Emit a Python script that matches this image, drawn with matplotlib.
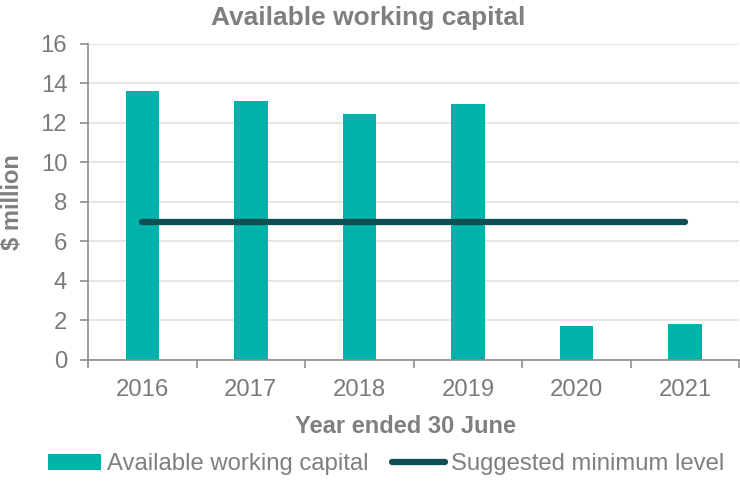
import matplotlib
matplotlib.use("Agg")
import matplotlib.pyplot as plt
from matplotlib.lines import Line2D
from matplotlib.patches import Patch
import numpy as np

years = ["2016", "2017", "2018", "2019", "2020", "2021"]
working_capital = [13.6, 13.1, 12.45, 12.95, 1.72, 1.81]
minimum_level = [7, 7, 7, 7, 7, 7]
y_ticks = [0, 2, 4, 6, 8, 10, 12, 14, 16]

bar_color = "#00B2A9"
line_color = "#0D4F52"
text_color = "#7F7F7F"
tick_text = "#7A7A7A"

plt.rcParams['font.family'] = ['Liberation Sans', 'DejaVu Sans']

fig = plt.figure(figsize=(7.4, 4.93), dpi=100)
ax = fig.add_axes([0.119, 0.270, 0.880, 0.641])

x = np.arange(len(years))
ax.bar(x, working_capital, width=0.31, color=bar_color, zorder=2)
ax.plot(x, minimum_level, color=line_color, linewidth=4.5, solid_capstyle='round', zorder=3)

ax.set_xlim(-0.5, len(years) - 0.5)
ax.set_ylim(0, 16)
ax.set_yticks(y_ticks)
ax.set_yticklabels([str(v) for v in y_ticks], fontsize=17.2, color=tick_text)
ax.yaxis.grid(True, color="#E0E0E0", linewidth=1.2, zorder=0)
ax.set_axisbelow(True)

ax.set_xticks(x)
ax.set_xticklabels(years, fontsize=17.2, color=tick_text)
ax.tick_params(axis='x', which='major', length=0, pad=14)
ax.set_xticks(np.arange(-0.5, len(years)), minor=True)
ax.tick_params(axis='x', which='minor', length=6, color="#8C8C8C", width=1.2)
ax.tick_params(axis='y', length=6, color="#8C8C8C", width=1.2, pad=9)

for s in ['top', 'right']:
    ax.spines[s].set_visible(False)
for s in ['left', 'bottom']:
    ax.spines[s].set_color("#8C8C8C")
    ax.spines[s].set_linewidth(1.2)

fig.text(0.498, 0.963, "Available working capital", fontsize=19, fontweight='bold',
         color=text_color, ha='center', va='center')
ax.set_xlabel("Year ended 30 June", fontsize=17, fontweight='bold', color=text_color)
ax.xaxis.set_label_coords(0.487, -0.175)
ax.set_ylabel("$ million", fontsize=17, fontweight='bold', color=text_color)
ax.yaxis.set_label_coords(-0.099, 0.5)

handles = [Patch(facecolor=bar_color, edgecolor='none'),
           Line2D([0], [0], color=line_color, linewidth=4.5, solid_capstyle='round')]
leg = fig.legend(handles, ["Available working capital", "Suggested minimum level"],
                 loc='lower center', bbox_to_anchor=(0.522, -0.008), ncol=2, frameon=False,
                 fontsize=17.2, handlelength=2.2, handletextpad=0.25, columnspacing=1.0)
for t in leg.get_texts():
    t.set_color(text_color)

fig.savefig("out.png", dpi=100)
